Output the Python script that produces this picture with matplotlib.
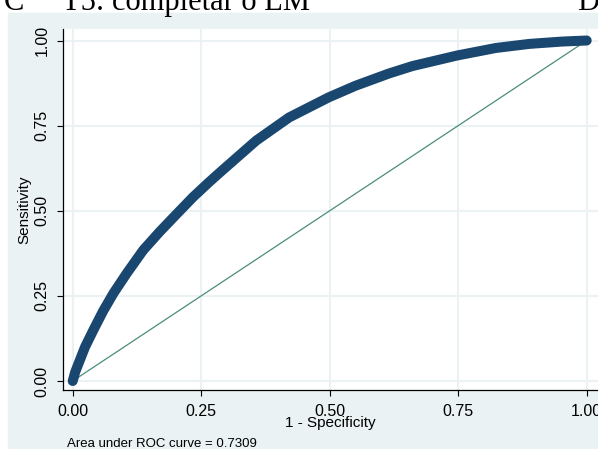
import matplotlib.pyplot as plt
from matplotlib.patches import Rectangle

# ROC curve
fpr = [0, 0.005, 0.024, 0.04, 0.059, 0.079, 0.105, 0.137, 0.169, 0.202, 0.234,
       0.266, 0.292, 0.357, 0.421, 0.498, 0.55, 0.615, 0.661, 0.748,
       0.823, 0.888, 0.953, 1.0]
tpr = [0, 0.027, 0.10, 0.149, 0.205, 0.257, 0.316, 0.384, 0.438, 0.49, 0.54,
       0.585, 0.62, 0.706, 0.774, 0.833, 0.867, 0.903, 0.925, 0.956,
       0.978, 0.99, 0.997, 1.0]
ref = [0, 1]
ticks = [0, 0.25, 0.5, 0.75, 1.0]
tick_labels = ["0.00", "0.25", "0.50", "0.75", "1.00"]
auc = 0.7309

bg = "#eaf2f3"
navy = "#1a476f"
green = "#4a8c7c"

plt.rcParams["font.family"] = ["Liberation Sans", "DejaVu Sans"]

fig = plt.figure(figsize=(5.98, 4.49), dpi=100)
fig.patch.set_facecolor("white")
fig.patches.append(Rectangle((8 / 598, 0), 1, (449 - 13) / 449,
                             transform=fig.transFigure, color=bg, zorder=-5))

# header text of the page, cut off at the top
serif = ["Liberation Serif", "DejaVu Serif"]
base = 1 - 10 / 449
fig.text(4 / 598, base, "C", family=serif, fontsize=22, va="baseline")
fig.text(62 / 598, base, "T5: completar o LM", family=serif, fontsize=22, va="baseline")
fig.text(577 / 598, base, "D", family=serif, fontsize=22, va="baseline")

ax = fig.add_axes([63.3 / 598, (449 - 390) / 449, (598 - 63.3) / 598, (390 - 29) / 449])
ax.set_zorder(2)
ax.set_facecolor("white")
ax.set_xlim(-0.0183, 1.022)
ax.set_ylim(-0.0264, 1.0338)

ax.plot(ref, ref, color=green, lw=0.9, zorder=2)
ax.plot(fpr, tpr, color=navy, lw=7.2, solid_capstyle="round", solid_joinstyle="round", zorder=3)

ax.set_xticks(ticks)
ax.set_xticklabels(tick_labels)
ax.set_yticks(ticks)
ax.set_yticklabels(tick_labels, rotation=90, va="center")
ax.tick_params(length=4, width=0.8, labelsize=11.5, direction="out", pad=6)
ax.grid(True, color=bg, lw=1.5)
ax.set_axisbelow(True)

for s in ["top", "right"]:
    ax.spines[s].set_visible(False)
for s in ["left", "bottom"]:
    ax.spines[s].set_linewidth(0.9)

ax.set_xlabel("1 - Specificity", fontsize=11, labelpad=-2)
ax.set_ylabel("Sensitivity", fontsize=11, labelpad=2)

fig.text(67 / 598, 1 - 444 / 449, "Area under ROC curve = %.4f" % auc,
         fontsize=9.5, va="center")

fig.savefig("out.png", dpi=100)
